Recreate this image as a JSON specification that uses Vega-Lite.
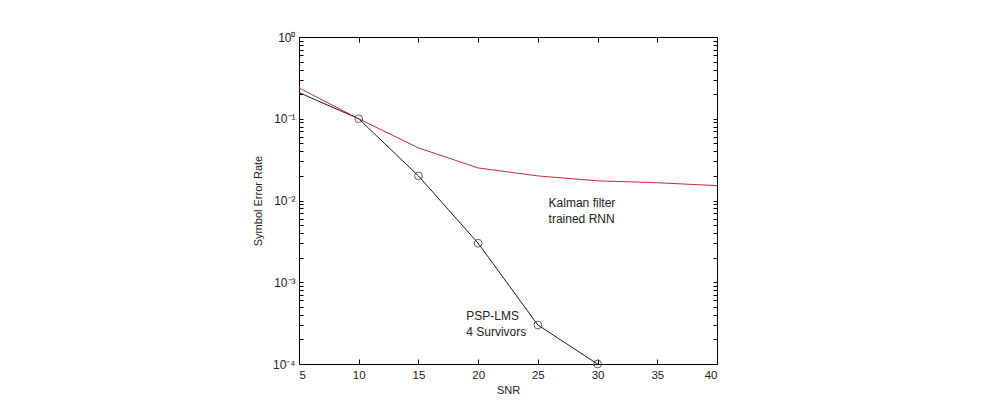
{
  "$schema": "https://vega.github.io/schema/vega-lite/v6.json",
  "width": 418,
  "height": 327,
  "autosize": "none",
  "padding": {"left": 299, "top": 37, "right": 273, "bottom": 41},
  "background": "white",
  "config": {
    "font": "Liberation Sans",
    "view": {"stroke": "black", "strokeWidth": 1},
    "axis": {
      "grid": false,
      "domain": false,
      "tickColor": "black",
      "tickSize": -5,
      "labelFont": "Liberation Sans",
      "labelFontSize": 12,
      "labelColor": "#222222",
      "titleFont": "Liberation Sans",
      "titleFontSize": 11,
      "titleFontWeight": "normal",
      "titleColor": "#222222"
    }
  },
  "datasets": {
    "curves": [
      {"series": "PSP-LMS", "snr": 5, "ser": 0.209},
      {"series": "PSP-LMS", "snr": 10, "ser": 0.1},
      {"series": "PSP-LMS", "snr": 15, "ser": 0.02},
      {"series": "PSP-LMS", "snr": 20, "ser": 0.003},
      {"series": "PSP-LMS", "snr": 25, "ser": 0.0003},
      {"series": "PSP-LMS", "snr": 30, "ser": 0.0001},
      {"series": "Kalman", "snr": 5, "ser": 0.238},
      {"series": "Kalman", "snr": 10, "ser": 0.1},
      {"series": "Kalman", "snr": 15, "ser": 0.044},
      {"series": "Kalman", "snr": 20, "ser": 0.025},
      {"series": "Kalman", "snr": 25, "ser": 0.020},
      {"series": "Kalman", "snr": 30, "ser": 0.0174},
      {"series": "Kalman", "snr": 35, "ser": 0.0165},
      {"series": "Kalman", "snr": 40, "ser": 0.0152}
    ],
    "notes": [
      {"label": "Kalman filter", "snr": 25.9, "ser": 0.0093},
      {"label": "trained RNN", "snr": 25.9, "ser": 0.00594},
      {"label": "PSP-LMS", "snr": 19.0, "ser": 0.000386},
      {"label": "4 Survivors", "snr": 19.0, "ser": 0.000248}
    ]
  },
  "layer": [
    {
      "data": {"name": "curves"},
      "mark": {"type": "line", "strokeWidth": 1},
      "encoding": {
        "x": {
          "field": "snr", "type": "quantitative",
          "scale": {"domain": [5, 40], "nice": false, "zero": false},
          "axis": {"orient": "bottom", "values": [5, 10, 15, 20, 25, 30, 35, 40], "labelFontSize": 11.5, "labelPadding": 10, "title": "SNR", "titlePadding": 4}
        },
        "y": {
          "field": "ser", "type": "quantitative",
          "scale": {"type": "log", "domain": [0.0001, 1], "nice": false},
          "axis": {
            "orient": "left",
            "values": [0.0001, 0.0002, 0.0003, 0.0004, 0.0005, 0.0006, 0.0007, 0.0008, 0.0009, 0.001, 0.002, 0.003, 0.004, 0.005, 0.006, 0.007, 0.008, 0.009, 0.01, 0.02, 0.03, 0.04, 0.05, 0.06, 0.07, 0.08, 0.09, 0.1, 0.2, 0.3, 0.4, 0.5, 0.6, 0.7, 0.8, 0.9, 1],
            "labelExpr": "abs(log(datum.value)/LN10 - round(log(datum.value)/LN10)) < 0.000001 ? ['10⁰','10⁻¹','10⁻²','10⁻³','10⁻⁴'][-round(log(datum.value)/LN10)] : ''",
            "tickSize": -4,
            "labelPadding": 8,
            "title": "Symbol Error Rate",
            "titlePadding": 9
          }
        },
        "color": {
          "field": "series", "type": "nominal",
          "scale": {"domain": ["PSP-LMS", "Kalman"], "range": ["#1a1a1a", "#c62a3f"]},
          "legend": null
        }
      }
    },
    {
      "data": {"name": "curves"},
      "transform": [{"filter": "datum.series == 'PSP-LMS' && datum.snr >= 10"}],
      "mark": {"type": "point", "shape": "circle", "filled": false, "stroke": "#1a1a1a", "strokeWidth": 1, "size": 60},
      "encoding": {
        "x": {
          "field": "snr", "type": "quantitative",
          "axis": {"orient": "top", "values": [5, 10, 15, 20, 25, 30, 35, 40], "labels": false, "title": null}
        },
        "y": {
          "field": "ser", "type": "quantitative",
          "axis": {
            "orient": "right",
            "values": [0.0001, 0.0002, 0.0003, 0.0004, 0.0005, 0.0006, 0.0007, 0.0008, 0.0009, 0.001, 0.002, 0.003, 0.004, 0.005, 0.006, 0.007, 0.008, 0.009, 0.01, 0.02, 0.03, 0.04, 0.05, 0.06, 0.07, 0.08, 0.09, 0.1, 0.2, 0.3, 0.4, 0.5, 0.6, 0.7, 0.8, 0.9, 1],
            "tickSize": -4,
            "labels": false,
            "title": null
          }
        }
      }
    },
    {
      "data": {"name": "notes"},
      "mark": {"type": "text", "align": "left", "baseline": "middle", "fontSize": 12, "font": "Liberation Sans", "color": "#222222"},
      "encoding": {
        "x": {"field": "snr", "type": "quantitative", "axis": null},
        "y": {"field": "ser", "type": "quantitative", "axis": null},
        "text": {"field": "label"}
      }
    }
  ],
  "resolve": {"axis": {"x": "independent", "y": "independent"}}
}
